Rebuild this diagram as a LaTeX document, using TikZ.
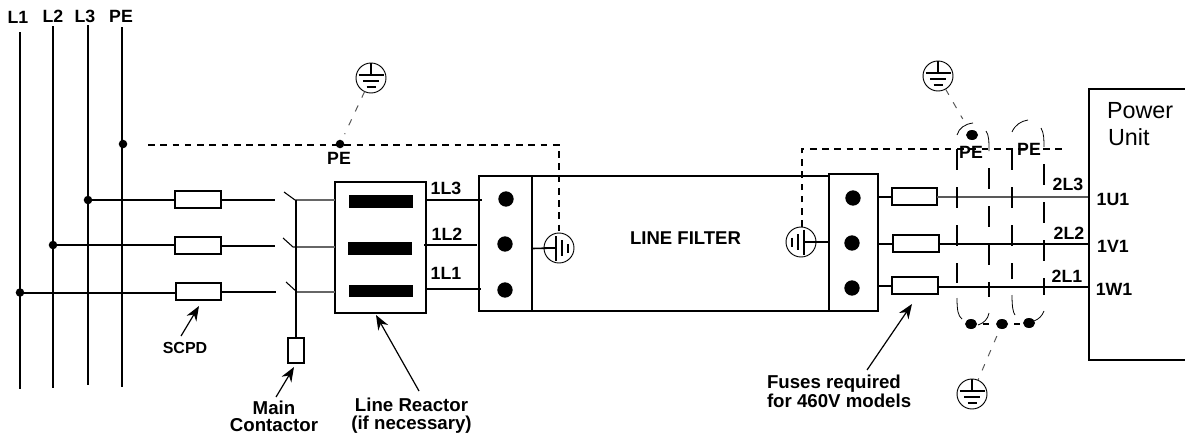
\documentclass[tikz,border=0pt]{standalone}
\usepackage{fontspec}
\setmainfont{Liberation Sans}
\usetikzlibrary{arrows.meta,shapes.geometric}
\tikzset{
  wire/.style={line width=1.5pt,black},
  thin wire/.style={line width=.8pt,black},
  hair/.style={line width=.9pt,black!60},
  dotted bond/.style={line width=1.3pt,dash pattern=on 5pt off 4.2pt},
  lead/.style={line width=.75pt,black!65,dash pattern=on 5pt off 6.5pt},
  shield/.style={line width=1.5pt,dash pattern=on 15.5pt off 13pt},
  shieldarc/.style={line width=.6pt},
  pointer/.style={line width=.9pt,-{Stealth[length=11pt,width=8.5pt]}},
  joint/.style={circle,fill=black,inner sep=0,outer sep=0,minimum size=6.4pt},
  term/.style={circle,fill=black,inner sep=0,outer sep=0,minimum size=11.5pt},
  oval/.style={ellipse,fill=black,inner sep=0,outer sep=0,minimum width=9pt,minimum height=7.5pt},
  fuse/.style={rectangle,draw,line width=1.5pt,fill=white,inner sep=0,outer sep=0,minimum width=34pt,minimum height=12.75pt},
  box/.style={rectangle,draw,line width=1.5pt,inner sep=0,outer sep=0},
  bar/.style={rectangle,fill=black,inner sep=0,outer sep=0,minimum width=48pt,minimum height=9.5pt},
  lab/.style={inner sep=0,outer sep=0,font=\fontsize{13.3}{15}\selectfont\bfseries,align=center},
  gnd/.pic={
    \node[circle,draw,line width=.7pt,inner sep=0,outer sep=0,minimum size=22.5pt] (-c) at (0,0) {};
    \coordinate (-b) at (0,-3);
    \draw[line width=1.2pt] (0,-15)--(0,-3) (-12.5,-3)--(12.5,-3);
    \draw[line width=1.2pt] (-8,3)--(8,3) (-4.5,9)--(4.5,9);
  }
}
\begin{document}
\begin{tikzpicture}[x=.75pt,y=-.75pt]
\useasboundingbox (0,0) rectangle (1185,439);
% buses
\foreach \n/\x/\a/\b in {L1/20/32/389,L2/53/26/388,L3/88/25/385,PE/122/27/387}{
  \coordinate (top\n) at (\x,\a);
  \coordinate (bot\n) at (\x,\b);
  \draw[wire] (top\n)--(bot\n);
}
\node[lab] (tL1) at (18,17) {L1};
\node[lab] (tL2) at (53,16) {L2};
\node[lab] (tL3) at (85,16) {L3};
\node[lab] (tPE) at (121,16) {PE};
% joints
\node[joint] (jPE) at (123,144) {};
\node[joint] (jL3) at (88,200) {};
\node[joint] (jL2) at (53,245) {};
\node[joint] (jL1) at (20,292.5) {};
% fuses left
\node[fuse] (f3) at (198,199.5) {};
\node[fuse] (f2) at (198,245.5) {};
\node[fuse] (f1) at (198.5,291.5) {};
\coordinate (o3) at (275,200);
\coordinate (o2) at (275,246);
\coordinate (o1) at (276,292);
\draw[wire] (jL3)--(f3.west |- jL3);
\draw[wire] (jL2)--(f2.west |- jL2);
\draw[wire] (jL1)--(f1.west |- jL1);
\draw[wire] (f3.east |- o3)--(o3);
\draw[wire] (f2.east |- o2)--(o2);
\draw[wire] (f1.east |- o1)--(o1);
% contactor
\coordinate (c3a) at (284,192); \coordinate (c3b) at (295,200);
\coordinate (c2a) at (283,238); \coordinate (c2b) at (293,247);
\coordinate (c1a) at (286,282); \coordinate (c1b) at (297,292);
\node[rectangle,draw,line width=1.5pt,inner sep=0,outer sep=0,minimum width=12pt,minimum height=18.75pt] (coil) at (296,350.5) {};
\node[box,minimum width=68.25pt,minimum height=98.25pt] (reactor) at (380.5,247.5) {};
\draw[thin wire] (c3a)--(c3b);
\draw[thin wire] (c2a)--(c2b);
\draw[thin wire] (c1a)--(c1b);
\draw[hair] (c3b)--(reactor.west |- c3b);
\draw[hair] (c2b)--(reactor.west |- c2b);
\draw[hair] (c1b)--(reactor.west |- c1b);
\draw[wire] (c3b -| coil.north)--(coil.north);
\node[bar] (b3) at (381,201.5) {};
\node[bar] (b2) at (380,248.5) {};
\node[bar,minimum height=9pt] (b1) at (381,291) {};
% filter
\node[box,minimum width=262.5pt,minimum height=101.25pt] (filter) at (654,243.5) {};
\draw[wire] (532,176)--(532,311);
\node[box,minimum width=36.75pt,minimum height=102.75pt] (filterR) at (853.5,242.5) {};
\node[term] (t3) at (506,199) {};
\node[term] (t2) at (505,244) {};
\node[term] (t1) at (505,290) {};
\node[term] (r3) at (853,198) {};
\node[term] (r2) at (852,243) {};
\node[term] (r1) at (852,288) {};
\draw[wire] (reactor.east |- 0,200)--(482,200);
\draw[wire] (424,245)--(477,245);
\draw[wire] (reactor.east |- 0,289)--(481,289);
\node[lab] (l13) at (446,188) {1L3};
\node[lab] (l12) at (447,234) {1L2};
\node[lab] (l11) at (446,273) {1L1};
\node[lab,font=\fontsize{13.9}{15}\selectfont\bfseries] (lf) at (685.5,238) {LINE FILTER};
% grounds
\pic (gA) at (371,78) {gnd};
\pic (gB) at (938,76) {gnd};
\pic (gC) at (972,394) {gnd};
\pic[rotate=90] (gL) at (559,248) {gnd};
\pic[rotate=-90] (gR) at (801,242) {gnd};
\coordinate (dL) at (532,248.5);
\coordinate (dR) at (829,242);
\draw[line width=1.2pt] (dL)--(gL-b);
\draw[line width=1.2pt] (dR)--(gR-b);
% dashed PE
\node[joint] (jPEm) at (340,144) {};
\coordinate (peS) at (148,145);
\coordinate (peC) at (559,145);
\draw[dotted bond] (peS)--(peC)--(gL-c.center |- 0,233);
\coordinate (prC) at (802,149);
\coordinate (prE) at (1062,149);
\draw[dotted bond] (prC |- 0,227)--(prC)--(prE);
\node[lab] (pe1) at (339,158) {PE};
\draw[lead,shorten >=5pt] (gA-c)--(jPEm);
% fuses right
\node[fuse] (g3) at (914.5,196.5) {};
\node[fuse] (g2) at (916,243.5) {};
\node[fuse] (g1) at (915,285.5) {};
\coordinate (p3) at (1089,197);
\coordinate (p2) at (1089,244);
\coordinate (p1) at (1089,287);
\draw[thin wire] (878,197)--(g3.west |- 0,197);
\draw[thin wire] (878,244)--(g2.west |- 0,244);
\draw[thin wire] (878,286)--(g1.west |- 0,286);
\draw[line width=1.5pt,black!65] (g3.east |- p3)--(p3);
\draw[wire] (g2.east |- p2)--(p2);
\draw[wire] (g1.east |- p1)--(p1);
\node[lab] (l23) at (1068,184) {2L3};
\node[lab] (l22) at (1069,233) {2L2};
\node[lab] (l21) at (1067,276) {2L1};
\node[lab] (u1) at (1113,199) {1U1};
\node[lab] (v1) at (1113,246) {1V1};
\node[lab] (w1) at (1114,289) {1W1};
% power unit
\draw[wire] (1185,89)--(1089,89)--(1089,360)--(1185,360);
\node[inner sep=0,outer sep=0,anchor=west,font=\fontsize{17.5}{20}\selectfont] (pw) at (1107,111) {Power};
\node[inner sep=0,outer sep=0,anchor=west,font=\fontsize{17.5}{20}\selectfont] (un) at (1108,137) {Unit};
% shields
\draw[shield] (957,149)--(957,283);
\draw[shield] (989,168)--(989,297);
\draw[shield] (1012,149)--(1012,279);
\draw[shield] (1044,164)--(1044,295);
\node[oval] (sT) at (972,135) {};
\node[oval] (s1) at (971,324) {};
\node[oval] (s2) at (1002,324) {};
\node[oval] (s3) at (1029,323) {};
\draw[shieldarc] (957,135) .. controls (959,128) and (965,124) .. (973,123);
\draw[shieldarc] (986,131) .. controls (989,135) and (989,142) .. (989,151);
\draw[shieldarc] (1012,132) .. controls (1015,125) and (1021,121) .. (1028,120);
\draw[shieldarc] (1041,128) .. controls (1044,133) and (1044,140) .. (1044,147);
\draw[shieldarc] (957,298) .. controls (957,310) and (958,316) .. (962,319);
\draw[shieldarc] (989,313) .. controls (988,319) and (984,323) .. (978,325);
\draw[shieldarc] (1012,295) .. controls (1012,307) and (1013,312) .. (1015,315);
\draw[shieldarc] (1044,311) .. controls (1042,316) and (1039,319) .. (1034,321);
\draw[line width=1.3pt] (983,324)--(989,324) (1014,324)--(1020,324);
\node[lab] (pe2) at (971,152) {PE};
\node[lab] (pe3) at (1029,149) {PE};
\draw[lead,shorten >=10pt] (gB-c)--(sT);
\draw[lead,shorten <=6pt] (s2)--(gC-c);
% pointers and labels
\node[lab,font=\fontsize{12}{14}\selectfont\bfseries] (scpd) at (185,348) {SCPD};
\node[lab,font=\fontsize{14}{13}\selectfont\bfseries] (mc) at (274,416) {Main\\Contactor};
\node[lab,font=\fontsize{14}{13.5}\selectfont\bfseries] (lr) at (411.5,416) {Line Reactor\\(if necessary)};
\node[lab,font=\fontsize{14}{14.25}\selectfont\bfseries,align=left,anchor=west] (fr) at (767,391.5) {Fuses required\\for 460V models};
\coordinate (a1) at (181,336); \coordinate (a1e) at (199,306);
\coordinate (a2) at (276,397); \coordinate (a2e) at (294,367);
\coordinate (a3) at (419,391); \coordinate (a3e) at (376,315);
\coordinate (a4) at (867,370); \coordinate (a4e) at (912,304);
\draw[pointer] (a1)--(a1e);
\draw[pointer] (a2)--(a2e);
\draw[pointer] (a3)--(a3e);
\draw[pointer] (a4)--(a4e);
\end{tikzpicture}
\end{document}
